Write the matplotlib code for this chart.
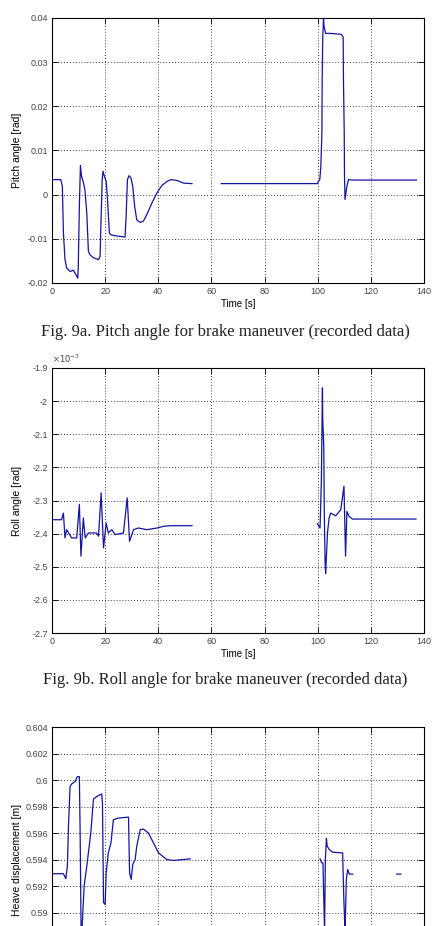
import numpy as np
import matplotlib
matplotlib.use('Agg')
import matplotlib.pyplot as plt
from matplotlib.ticker import FormatStrFormatter

nan = np.nan

# Fig 9a - pitch angle [rad]
pitch_t = [0, 3.3, 3.9, 4.3, 4.9, 5.5, 6.8, 8.0, 9.0, 9.7, 9.9, 10.3, 10.7, 11.1, 11.8, 12.4,
           13.1, 13.7, 14.3, 15.6, 17.5, 18.1, 18.5, 18.9, 19.2, 19.7, 20.4, 20.9, 21.6, 22.2,
           23.8, 27.5, 27.9, 28.4, 29.0, 29.7, 30.4, 31.1, 31.9, 33.2, 34.4, 35.7, 37.6, 39.5,
           41.4, 43.3, 44.8, 47.1, 49.6, 52.7, 58.0,
           63.7, 99.9, 100.3, 100.8, 101.2, 101.6, 101.7, 101.9, 102.2, 102.4, 103.0, 104.9,
           108.9, 109.6, 109.7, 110.0, 110.1, 110.3, 111.0, 111.6, 113.1, 137.2]
pitch = [0.0034, 0.0034, 0.0019, -0.0087, -0.0147, -0.0166, -0.0174, -0.0171, -0.0181, -0.0189,
         -0.0162, -0.0026, 0.0066, 0.0042, 0.0028, 0.0011, -0.0042, -0.0128, -0.0136, -0.0143,
         -0.0147, -0.0140, -0.0049, 0.0034, 0.0053, 0.0042, 0.0030, -0.0011, -0.0087, -0.0091,
         -0.0093, -0.0096, -0.0049, 0.0034, 0.0043, 0.0038, 0.0019, -0.0026, -0.0057, -0.0063,
         -0.0060, -0.0045, -0.0019, 0.0004, 0.0021, 0.0030, 0.0034, 0.0032, 0.0026, 0.0025, nan,
         0.0025, 0.0025, 0.0030, 0.0034, 0.0064, 0.0140, 0.0255, 0.0351, 0.0400, 0.0381, 0.0365,
         0.0365, 0.0363, 0.0357, 0.0266, 0.0140, 0.0042, -0.0011, 0.0019, 0.0034, 0.0033, 0.0033]

# Fig 9b - roll angle [x 1e-3 rad]
roll_t = [0.5, 3.6, 4.3, 4.9, 5.5, 7.4, 9.3, 10.3, 10.9, 11.8, 12.5, 13.7, 16.8, 17.5, 18.5,
          19.4, 20.4, 21.2, 22.5, 23.8, 26.9, 28.3, 29.2, 30.7, 32.5, 35.7, 39.5, 42.0, 44.5,
          52.7, 76.0,
          99.9, 100.9, 101.4, 101.8, 101.9, 102.3, 102.5, 102.8, 103.0, 103.7, 104.3, 104.9,
          106.8, 108.7, 109.9, 110.5, 111.0, 111.8, 113.1, 137.0]
roll_e3 = [-2.358, -2.358, -2.338, -2.413, -2.388, -2.413, -2.413, -2.312, -2.468, -2.353,
           -2.413, -2.398, -2.398, -2.408, -2.277, -2.443, -2.368, -2.398, -2.388, -2.403,
           -2.398, -2.292, -2.423, -2.388, -2.383, -2.388, -2.383, -2.378, -2.376, -2.376, nan,
           -2.370, -2.383, -2.237, -1.960, -2.050, -2.140, -2.338, -2.490, -2.520, -2.398,
           -2.353, -2.338, -2.346, -2.328, -2.257, -2.468, -2.333, -2.348, -2.356, -2.356]

# Fig 9c - heave displacement [m]
heave_t = [0.5, 4.3, 5.2, 5.8, 6.2, 6.8, 7.4, 8.7, 9.5, 10.3, 10.6, 11.0, 12.1, 13.1, 13.7,
           14.6, 15.6, 16.8, 18.7, 19.0, 19.4, 20.0, 20.4, 21.2, 22.2, 23.1, 25.0, 28.8, 29.2,
           29.8, 30.4, 31.3, 31.9, 33.2, 34.4, 36.3, 38.2, 40.1, 43.2, 45.7, 52.0, 76.0,
           100.9, 101.5, 102.0, 102.2, 102.6, 102.9, 103.3, 103.6, 104.4, 105.6, 109.4, 109.8,
           110.3, 110.8, 111.3, 111.9, 113.2, 120.0, 129.8, 131.3]
heave = [0.59293, 0.59293, 0.59255, 0.5935, 0.5965, 0.5995, 0.5997, 0.59988, 0.60025, 0.60025,
         0.5960, 0.5875, 0.5920, 0.5935, 0.5945, 0.5960, 0.59855, 0.59875, 0.59895, 0.59825,
         0.59075, 0.5906, 0.5930, 0.5945, 0.59525, 0.5970, 0.59713, 0.5972, 0.5930, 0.5925,
         0.59363, 0.5940, 0.5950, 0.59625, 0.5963, 0.5960, 0.59525, 0.5945, 0.5940, 0.59393,
         0.59405, nan,
         0.59405, 0.59375, 0.59375, 0.5919, 0.5885, 0.5940, 0.5956, 0.5950, 0.59475, 0.59455,
         0.5945, 0.5913, 0.5885, 0.5925, 0.59325, 0.5929, 0.5929, nan, 0.5929, 0.5929]

time_ticks = [0, 20, 40, 60, 80, 100, 120, 140]

plt.rcParams['font.family'] = ['Liberation Sans', 'DejaVu Sans']
line_color = '#1414a0'

fig = plt.figure(figsize=(4.34, 9.26), dpi=100)


def setup(ax, yticks, ylim, ylabel, xlabel=True):
    ax.set_xlim(0, 140)
    ax.set_xticks(time_ticks)
    ax.set_yticks(yticks)
    ax.set_ylim(*ylim)
    ax.yaxis.set_major_formatter(FormatStrFormatter('%g'))
    ax.tick_params(direction='in', top=True, right=True, length=4, width=0.6,
                   labelsize=6.5, labelcolor='#444444', pad=3)
    ax.grid(True, color='black', linestyle=(0, (1, 2.5)), linewidth=0.6)
    for s in ax.spines.values():
        s.set_linewidth(0.8)
    ax.set_ylabel(ylabel, fontsize=7.5)
    ax.yaxis.set_label_coords(-0.08, 0.5)
    if xlabel:
        ax.set_xlabel('Time [s]', fontsize=7, labelpad=2)


# pitch
ax1 = fig.add_axes([0.1198, 0.6944, 0.857, 0.2862])
ax1.plot(pitch_t, pitch, color=line_color, lw=0.9)
setup(ax1, [-0.02, -0.01, 0, 0.01, 0.02, 0.03, 0.04], (-0.02, 0.04), 'Pitch angle [rad]')
fig.text(0.52, 1 - 332 / 926, 'Fig. 9a. Pitch angle for brake maneuver (recorded data)',
         ha='center', va='center', family='Liberation Serif', fontsize=12, color='#222222')

# roll
ax2 = fig.add_axes([0.1198, 0.3164, 0.857, 0.2862])
ax2.plot(roll_t, roll_e3, color=line_color, lw=0.9)
setup(ax2, list(np.round(np.arange(-2.7, -1.85, 0.1), 1)), (-2.7, -1.9), 'Roll angle [rad]')
ax2.text(0.0, 1.01, r'$\times 10^{-3}$', transform=ax2.transAxes, fontsize=6,
         color='#444444', va='bottom')
fig.text(0.52, 1 - 680 / 926, 'Fig. 9b. Roll angle for brake maneuver (recorded data)',
         ha='center', va='center', family='Liberation Serif', fontsize=12, color='#222222')

# heave (the page cuts this panel off at the bottom)
ax3 = fig.add_axes([0.1198, -0.0713, 0.857, 0.2862])
ax3.plot(heave_t, heave, color=line_color, lw=0.9)
setup(ax3, list(np.round(np.arange(0.59, 0.6045, 0.002), 3)), (0.584, 0.604),
      'Heave displacement [m]', xlabel=False)
ax3.tick_params(labelbottom=False)

fig.savefig('out.png', dpi=100)
